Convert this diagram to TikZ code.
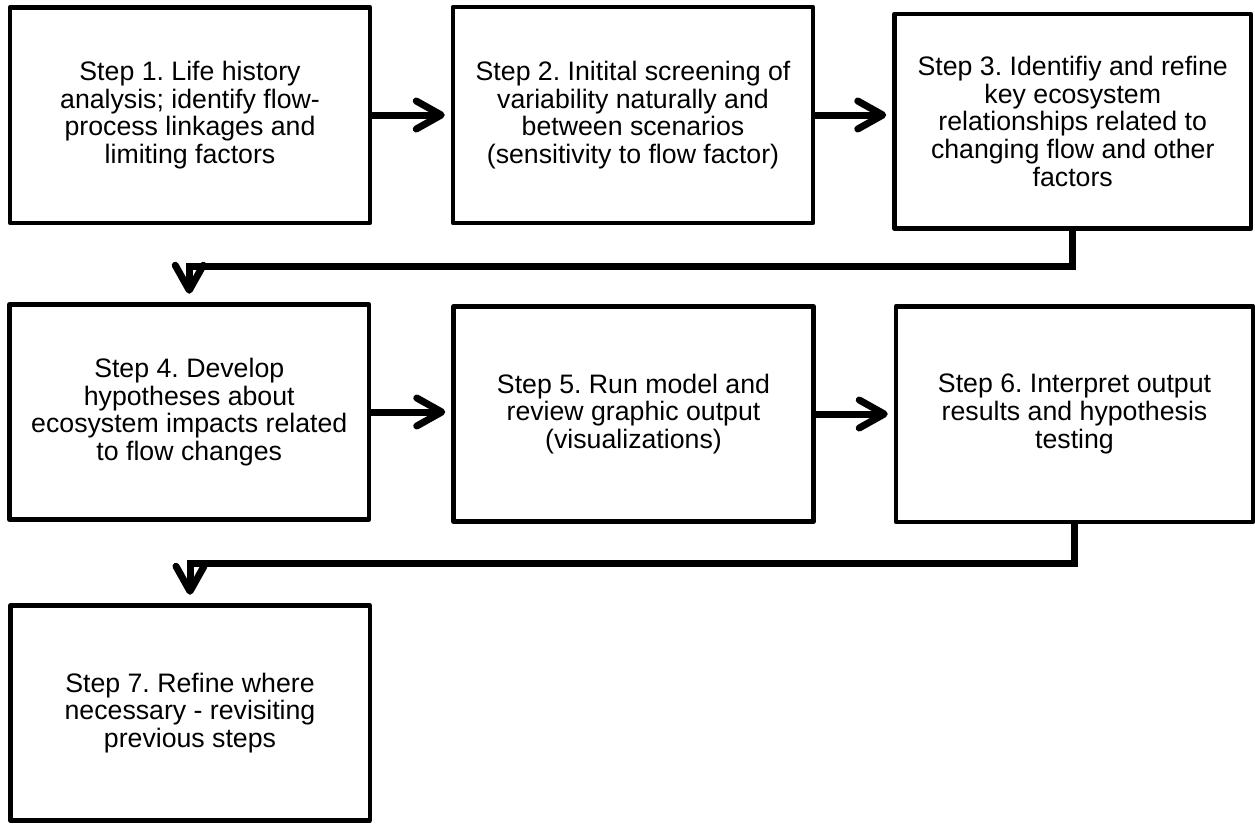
\documentclass[tikz,border=0pt]{standalone}
\usepackage{fontspec}
\setmainfont{Liberation Sans}
\usetikzlibrary{arrows.meta}
\frenchspacing
\begin{document}
\begin{tikzpicture}[x=1pt,y=-1pt,
  stepbox/.style={draw, line width=4.5pt, line join=round, inner sep=0pt, align=center,
    font=\fontsize{26.7pt}{27.6pt}\selectfont},
  conn/.style={line width=7pt, -{Straight Barb[length=25pt, width=28pt, round]}},
  hconn/.style={conn, shorten >=6pt},
  vconn/.style={conn, shorten >=8.5pt}]
\useasboundingbox (0,0) rectangle (1255,823);
\node[stepbox, minimum width=360pt, minimum height=215.5pt] (b1) at (190,115)
  {Step 1. Life history\\analysis; identify flow-\\process linkages and\\limiting factors};
\node[stepbox, minimum width=360pt, minimum height=216pt] (b2) at (633,115)
  {Step 2. Initital screening of\\variability naturally and\\between scenarios\\(sensitivity to flow factor)};
\node[stepbox, minimum width=356.5pt, minimum height=214.5pt] (b3) at (1072.75,121.25)
  {Step 3. Identifiy and refine\\key ecosystem\\relationships related to\\changing flow and other\\factors};
\node[stepbox, minimum width=359.5pt, minimum height=215pt] (b4) at (189.25,412)
  {Step 4. Develop\\hypotheses about\\ecosystem impacts related\\to flow changes};
\node[stepbox, minimum width=360pt, minimum height=215pt] (b5) at (633.5,414)
  {Step 5. Run model and\\review graphic output\\(visualizations)};
\node[stepbox, minimum width=357pt, minimum height=215.5pt] (b6) at (1074.5,414)
  {Step 6. Interpret output\\results and hypothesis\\testing};
\node[stepbox, minimum width=359.5pt, minimum height=215pt] (b7) at (190,713)
  {Step 7. Refine where\\necessary - revisiting\\previous steps};
\coordinate (t34) at (600,266.5);
\coordinate (t67) at (600,563);
\draw[hconn] (b1.east) -- (b1.east -| b2.west);
\draw[hconn] (b2.east) -- (b2.east -| b3.west);
\draw[hconn] (b4.east) -- (b4.east -| b5.west);
\draw[hconn] (b5.east) -- (b5.east -| b6.west);
\draw[vconn] (b3.south) |- (t34) -| (b4.north);
\draw[vconn] (b6.south) |- (t67) -| (b7.north);
\end{tikzpicture}
\end{document}
